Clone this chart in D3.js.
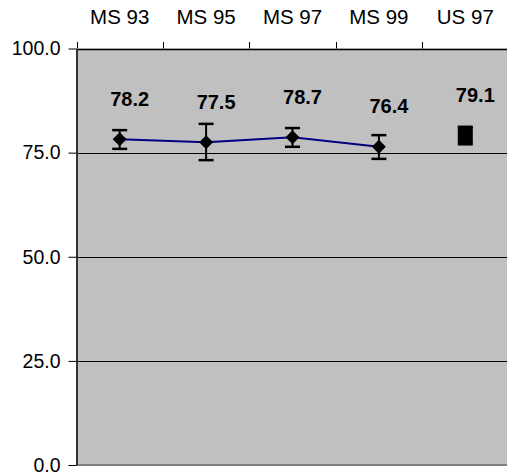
<!DOCTYPE html>
<html>
<head>
<meta charset="utf-8">
<script src="https://cdn.jsdelivr.net/npm/d3@7"></script>
<style>
  body { margin: 0; background: #fff; }
  svg { display: block; font-family: Arial, "Liberation Sans", sans-serif; }
</style>
</head>
<body>
<div id="chart"></div>
<script>
// survey waves along the top
const categories = ['MS 93', 'MS 95', 'MS 97', 'MS 99', 'US 97'];
// mean scores
const means = [78.2, 77.5, 78.7, 76.4, 79.1];
// error bar ends
const upper = [80.4, 81.9, 80.9, 79.2, 81.2];
const lower = [75.9, 73.2, 76.4, 73.5, 77.0];
// which points belong to the connected MS series
const lineSeries = ['MS 93', 'MS 95', 'MS 97', 'MS 99'];
const yTicks = [0, 25, 50, 75, 100];

const width = 507, height = 476;
const plot = { left: 76.5, right: 508.5, top: 48.5, bottom: 465 };

const svg = d3.select('#chart').append('svg')
  .attr('width', width)
  .attr('height', height);

const x = d3.scaleBand()
  .domain(categories)
  .range([plot.left, plot.right])
  .padding(0);

const y = d3.scaleLinear()
  .domain([0, 100])
  .range([plot.bottom, plot.top]);

const cx = d => x(d) + x.bandwidth() / 2;

// plot background
svg.append('rect')
  .attr('x', plot.left)
  .attr('y', plot.top)
  .attr('width', plot.right - plot.left)
  .attr('height', plot.bottom - plot.top)
  .attr('fill', '#c0c0c0');

// gridlines
svg.append('g')
  .selectAll('line')
  .data(yTicks.filter(t => t > 0))
  .enter()
  .append('line')
  .attr('x1', plot.left)
  .attr('x2', plot.right)
  .attr('y1', d => Math.round(y(d)) + 0.5)
  .attr('y2', d => Math.round(y(d)) + 0.5)
  .attr('stroke', '#000')
  .attr('stroke-width', d => d === 100 ? 1.5 : 1);

// bottom border
svg.append('line')
  .attr('x1', plot.left)
  .attr('x2', plot.right)
  .attr('y1', plot.bottom)
  .attr('y2', plot.bottom)
  .attr('stroke', '#808080')
  .attr('stroke-width', 2);

// left axis
const yAxis = svg.append('g')
  .attr('transform', `translate(${plot.left},0)`)
  .call(d3.axisLeft(y)
    .tickValues(yTicks)
    .tickFormat(d3.format('.1f'))
    .tickSize(8)
    .tickSizeOuter(0)
    .tickPadding(8));

yAxis.select('.domain')
  .attr('stroke', '#333')
  .attr('stroke-width', 2);
yAxis.selectAll('.tick line').attr('stroke', '#000');
yAxis.selectAll('.tick text')
  .attr('fill', '#000')
  .style('font-size', '19.5px');

// top axis: labels at band centres, tick marks at band starts
const xAxis = svg.append('g')
  .attr('transform', `translate(0,${plot.top})`)
  .call(d3.axisTop(x).tickSize(0).tickPadding(25));
xAxis.select('.domain').remove();
xAxis.selectAll('.tick text')
  .attr('fill', '#000')
  .style('font-size', '20.5px');

svg.append('g')
  .selectAll('line')
  .data(categories)
  .enter()
  .append('line')
  .attr('x1', d => Math.round(x(d)) + 0.5)
  .attr('x2', d => Math.round(x(d)) + 0.5)
  .attr('y1', plot.top - 6.5)
  .attr('y2', plot.top)
  .attr('stroke', '#000');

// data
const points = categories.map((c, i) => ({
  cat: c, mean: means[i], hi: upper[i], lo: lower[i]
}));

// connecting line
const line = d3.line()
  .x(d => cx(d.cat))
  .y(d => y(d.mean));

svg.append('path')
  .datum(points.filter(p => lineSeries.includes(p.cat)))
  .attr('d', line)
  .attr('fill', 'none')
  .attr('stroke', '#000080')
  .attr('stroke-width', 2);

// error bars
const err = svg.append('g')
  .selectAll('g')
  .data(points)
  .enter()
  .append('g');

err.append('line')
  .attr('x1', d => cx(d.cat))
  .attr('x2', d => cx(d.cat))
  .attr('y1', d => y(d.hi))
  .attr('y2', d => y(d.lo))
  .attr('stroke', '#000')
  .attr('stroke-width', 2);

['hi', 'lo'].forEach(k => {
  err.append('line')
    .attr('x1', d => cx(d.cat) - 7.5)
    .attr('x2', d => cx(d.cat) + 7.5)
    .attr('y1', d => y(d[k]))
    .attr('y2', d => y(d[k]))
    .attr('stroke', '#000')
    .attr('stroke-width', 2.5);
});

// markers: diamonds for MS series, square for US 97
svg.append('g')
  .selectAll('path')
  .data(points.filter(p => lineSeries.includes(p.cat)))
  .enter()
  .append('path')
  .attr('transform', d => `translate(${cx(d.cat)},${y(d.mean)})`)
  .attr('d', 'M0,-7L7,0L0,7L-7,0Z')
  .attr('fill', '#000');

svg.append('g')
  .selectAll('rect')
  .data(points.filter(p => !lineSeries.includes(p.cat)))
  .enter()
  .append('rect')
  .attr('x', d => cx(d.cat) - 7.5)
  .attr('y', d => y(d.hi))
  .attr('width', 15)
  .attr('height', d => y(d.lo) - y(d.hi))
  .attr('fill', '#000');

// value labels
svg.append('g')
  .selectAll('text')
  .data(points)
  .enter()
  .append('text')
  .attr('x', d => cx(d.cat) + 10)
  .attr('y', d => y(d.mean) - 33.5)
  .attr('text-anchor', 'middle')
  .style('font-size', '20px')
  .style('font-weight', 'bold')
  .text(d => d.mean.toFixed(1));
</script>
</body>
</html>
